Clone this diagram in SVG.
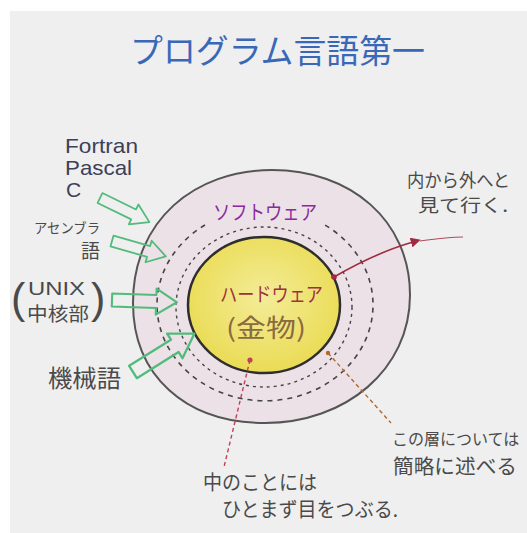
<svg xmlns="http://www.w3.org/2000/svg" width="527" height="533" viewBox="0 0 527 533">
<style>
.jp{font-family:"Noto Sans CJK JP","Noto Sans",sans-serif}
.lat{font-family:"Liberation Sans","DejaVu Sans",sans-serif}
.hand{fill:#4a4a4a}
.green{fill:none;stroke:#52bb7c;stroke-width:1.6;stroke-linejoin:round}
</style>
<defs>
<radialGradient id="yel" cx="0.5" cy="0.45" r="0.6">
<stop offset="0" stop-color="#f4ec98"/>
<stop offset="1" stop-color="#e9da4e"/>
</radialGradient>
<path id="garrow" d="M0,-5 H34 V-10 L50,0 L34,10 V5 H0 Z"/>
<marker id="tri" viewBox="0 0 10 10" refX="2" refY="5" markerWidth="10" markerHeight="10" orient="auto" markerUnits="userSpaceOnUse">
<path d="M0,0 L10,5 L0,10 Z" fill="#a02a40"/>
</marker>
</defs>
<rect width="527" height="533" fill="#ffffff"/>
<rect x="10" y="11" width="517" height="522" fill="#efefef"/>

<g id="title">
<text class="jp" x="130" y="63" font-size="33" fill="#3a68b8" textLength="295" lengthAdjust="spacingAndGlyphs">プログラム言語第一</text>
</g>

<g id="software">
<path d="M133,303 C133,220 195,170 272,170 C350,170 410,220 410,295 C410,370 345,423 265,423 C185,423 133,375 133,303 Z" fill="#ece1e6" stroke="#555" stroke-width="2"/>
<path d="M205,225 A108 96 0 1 0 325,225" fill="none" stroke="#444" stroke-width="1.6" stroke-dasharray="5 5"/>
<ellipse cx="264" cy="307" rx="88" ry="80" fill="none" stroke="#444" stroke-width="1.4" stroke-dasharray="3 4"/>
<text class="jp" x="213" y="220" font-size="20" fill="#8a2aa0" textLength="104" lengthAdjust="spacingAndGlyphs">ソフトウェア</text>
</g>

<g id="hardware">
<ellipse cx="264" cy="305" rx="76" ry="68" fill="url(#yel)" stroke="#2e2e2e" stroke-width="2.5"/>
<text class="jp" x="220" y="302" font-size="20" fill="#a03040" textLength="103" lengthAdjust="spacingAndGlyphs">ハードウェア</text>
<text class="jp" x="226" y="337" font-size="25" fill="#8a6a40" textLength="80" lengthAdjust="spacingAndGlyphs">(金物)</text>
</g>

<g id="languages">
<text class="lat" x="65" y="153" font-size="21" fill="#3c4058" textLength="73" lengthAdjust="spacingAndGlyphs">Fortran</text>
<text class="lat" x="65" y="175" font-size="21" fill="#3c4058" textLength="67" lengthAdjust="spacingAndGlyphs">Pascal</text>
<text class="lat" x="66" y="197" font-size="21" fill="#3c4058">C</text>
</g>

<g id="assembler">
<text class="jp hand" x="34" y="233" font-size="14" textLength="66" lengthAdjust="spacingAndGlyphs">アセンブラ</text>
<text class="jp hand" x="81" y="258" font-size="19">語</text>
</g>

<g id="unix">
<text class="lat hand" x="11" y="313" font-size="43">(</text>
<text class="lat hand" x="28" y="295" font-size="18" textLength="57" lengthAdjust="spacingAndGlyphs">UNIX</text>
<text class="jp hand" x="27" y="321" font-size="19" textLength="62" lengthAdjust="spacingAndGlyphs">中核部</text>
<text class="lat hand" x="91" y="313" font-size="43">)</text>
</g>

<g id="machine">
<text class="jp hand" x="48" y="387" font-size="24" textLength="73" lengthAdjust="spacingAndGlyphs">機械語</text>
</g>

<g id="note-outward">
<text class="jp hand" x="407" y="187" font-size="18" textLength="103" lengthAdjust="spacingAndGlyphs">内から外へと</text>
<text class="jp hand" x="418" y="212" font-size="18" textLength="90" lengthAdjust="spacingAndGlyphs">見て行く.</text>
</g>

<g id="note-layer">
<text class="jp hand" x="392" y="445" font-size="16">この層については</text>
<text class="jp hand" x="393" y="474" font-size="20" textLength="124" lengthAdjust="spacingAndGlyphs">簡略に述べる</text>
</g>

<g id="note-inside">
<text class="jp hand" x="203" y="490" font-size="20" textLength="114" lengthAdjust="spacingAndGlyphs">中のことには</text>
<text class="jp hand" x="222" y="517" font-size="20" textLength="176" lengthAdjust="spacingAndGlyphs">ひとまず目をつぶる.</text>
</g>

<g id="connectors">
<use href="#garrow" class="green" transform="translate(100,198) rotate(26) scale(1.1)"/>
<use href="#garrow" class="green" transform="translate(112,241) rotate(16) scale(1.12)"/>
<use href="#garrow" class="green" transform="translate(112,300) rotate(2) scale(1.3)"/>
<use href="#garrow" class="green" transform="translate(133,372) rotate(-32) scale(1.45)"/>
<path d="M334,277 C360,262 385,250 413,242" fill="none" stroke="#a02a40" stroke-width="1.6" marker-end="url(#tri)"/>
<path d="M420,241 C435,239 450,237 463,237" fill="none" stroke="#b04a60" stroke-width="1.2"/>
<circle cx="334" cy="277" r="2.8" fill="#a02a40"/>
<path d="M328,353 L391,423" fill="none" stroke="#b06a30" stroke-width="1.4" stroke-dasharray="4 3"/>
<circle cx="328" cy="353" r="2.2" fill="#b06a30"/>
<path d="M250,360 L224,467" fill="none" stroke="#c0405a" stroke-width="1.4" stroke-dasharray="4 3"/>
<circle cx="250" cy="360" r="2.6" fill="#c0405a"/>
</g>
</svg>
